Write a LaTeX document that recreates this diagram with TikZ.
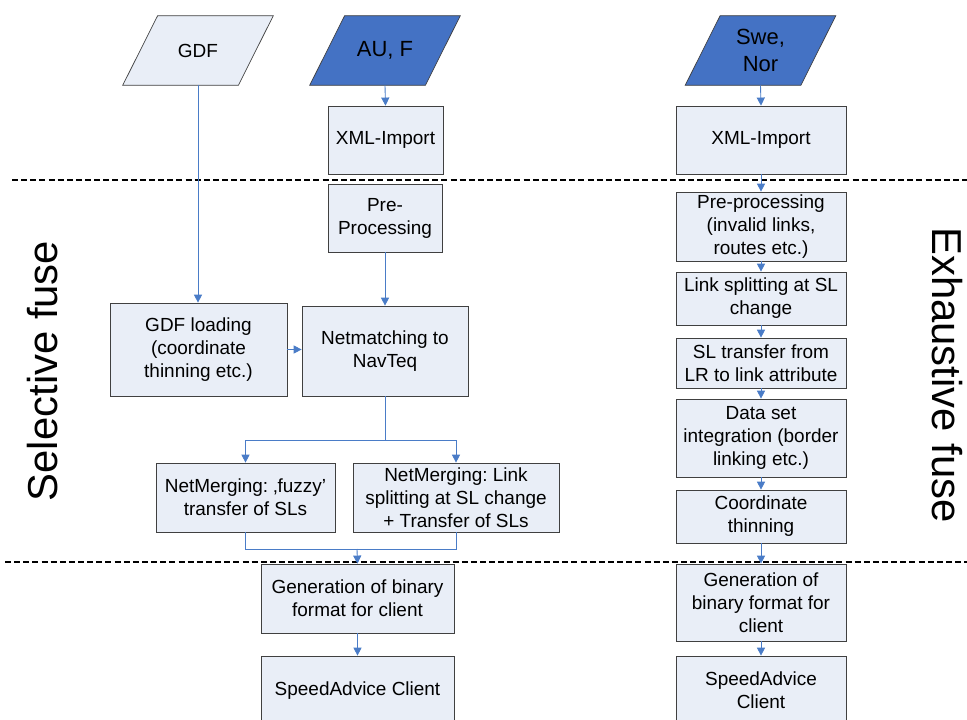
\documentclass[tikz,border=0pt]{standalone}
\usepackage{fontspec}
\setmainfont{Liberation Sans}
\usetikzlibrary{arrows.meta,backgrounds}
\definecolor{boxfill}{HTML}{E9EEF7}
\definecolor{boxline}{HTML}{404040}
\definecolor{darkin}{HTML}{4472C4}
\definecolor{flowblue}{HTML}{4A7CC7}
\newcommand{\boxfont}{\fontsize{10.8}{13.1}\selectfont}
\newcommand{\infont}{\fontsize{12.5}{15.8}\selectfont}
\newcommand{\sidefont}{\fontsize{23.8}{28}\selectfont}
\tikzset{
  proc/.style={rectangle, draw=boxline, fill=boxfill, align=center, inner sep=1pt, font=\boxfont},
  datain/.style={rectangle, align=center, inner sep=1pt, minimum width=2.3cm, minimum height=1.38cm},
  flow/.style={draw=flowblue, line width=0.5pt, -{Triangle[width=4.6pt,length=4.6pt]}},
  flowline/.style={draw=flowblue, line width=0.5pt},
  sep/.style={dashed, dash pattern=on 3.4pt off 1.8pt, line width=0.9pt}
}

\begin{document}
\frenchspacing
\begin{tikzpicture}[x=0.02cm,y=-0.02cm]
    \clip (0,0) rectangle (967,720);
    \draw[sep] (12,180) -- (967,180);
    \draw[sep] (5,562) -- (967,562);

    \node[datain, font=\boxfont] (gdf) at (198,50.5) {GDF};
    \node[datain, font=\infont] (auf) at (385,50.5) {AU, F};
    \node[datain, font=\infont] (swenor) at (760.5,50.5) {Swe,\\Nor};
    \begin{scope}[on background layer]
    \foreach \n/\c in {gdf/boxfill, auf/darkin, swenor/darkin}
        \draw[draw=boxline, fill=\c] ([xshift=-0.35cm]\n.south west) -- ([xshift=-0.35cm]\n.south east)
            -- ([xshift=0.35cm]\n.north east) -- ([xshift=0.35cm]\n.north west) -- cycle;
    \end{scope}

    \node[proc, minimum width=2.3cm, minimum height=1.36cm] (xmlA) at (385.5,140) {XML-Import};
    \node[proc, minimum width=2.28cm, minimum height=1.36cm] (preA) at (385,218) {Pre-\\Processing};
    \node[proc, minimum width=3.54cm, minimum height=1.86cm] (gdfload) at (198.5,349.5) {GDF loading\\(coordinate\\thinning etc.)};
    \node[proc, minimum width=3.32cm, minimum height=1.8cm] (netmatch) at (385,351) {Netmatching to\\NavTeq};
    \node[proc, minimum width=3.58cm, minimum height=1.38cm] (mergeA) at (245.5,497.5) {NetMerging: ‚fuzzy’\\transfer of SLs};
    \node[proc, minimum width=4.12cm, minimum height=1.38cm] (mergeB) at (456,497.5) {NetMerging: Link\\splitting at SL change\\+ Transfer of SLs};
    \node[proc, minimum width=3.86cm, minimum height=1.38cm] (genA) at (357.5,598.5) {Generation of binary\\format for client};
    \node[proc, minimum width=3.86cm, minimum height=1.4cm] (clientA) at (357.5,691) {SpeedAdvice Client};

    \node[proc, minimum width=3.4cm, minimum height=1.36cm] (xmlB) at (761,140) {XML-Import};
    \node[proc, minimum width=3.4cm, minimum height=1.38cm] (preB) at (761,226.5) {Pre-processing\\(invalid links,\\routes etc.)};
    \node[proc, minimum width=3.4cm, minimum height=1.06cm] (splitB) at (761,298.5) {Link splitting at SL\\change};
    \node[proc, minimum width=3.4cm, minimum height=1.0cm] (slB) at (761,363) {SL transfer from\\LR to link attribute};
    \node[proc, minimum width=3.4cm, minimum height=1.56cm] (dataB) at (761,438) {Data set\\integration (border\\linking etc.)};
    \node[proc, minimum width=3.4cm, minimum height=1.06cm] (thinB) at (761,516.5) {Coordinate\\thinning};
    \node[proc, minimum width=3.4cm, minimum height=1.54cm] (genB) at (761,602.5) {Generation of\\binary format for\\client};
    \node[proc, minimum width=3.4cm, minimum height=1.36cm] (clientB) at (761,690) {SpeedAdvice\\Client};

    \node[rotate=90, font=\sidefont] (selective) at (43,371) {Selective fuse};
    \node[rotate=-90, font=\sidefont] (exhaustive) at (947,375) {Exhaustive fuse};

    \coordinate (split) at (385,440);
    \coordinate (join) at (357,549);

    \draw[flow] (gdf.south) -- (gdf.south |- gdfload.north);
    \draw[flow] (auf.south) -- (xmlA.north);
    \draw[flow] (preA.south) -- (netmatch.north);
    \draw[flow] (gdfload.east) -- (gdfload.east -| netmatch.west);
    \draw[flowline] (netmatch.south) -- (split);
    \draw[flow] (split) -| (mergeA.north);
    \draw[flow] (split) -| (mergeB.north);
    \draw[flowline] (mergeA.south) |- (join);
    \draw[flowline] (mergeB.south) |- (join);
    \draw[flow] (join) -- (genA.north);
    \draw[flow] (genA.south) -- (clientA.north);

    \foreach \a/\b in {swenor/xmlB, xmlB/preB, preB/splitB, splitB/slB, slB/dataB, dataB/thinB, thinB/genB, genB/clientB}
        \draw[flow] (\a.south) -- (\b.north);
\end{tikzpicture}
\end{document}
